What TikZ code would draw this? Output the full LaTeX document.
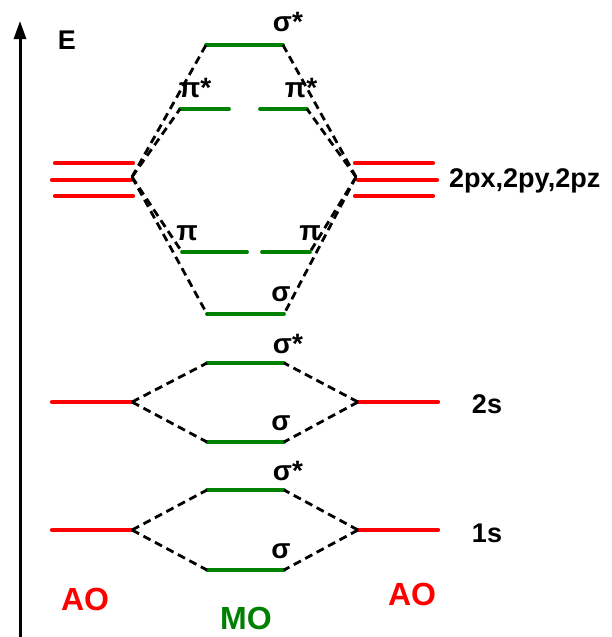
\documentclass[tikz,border=0pt]{standalone}
\usepackage{fontspec}
\setmainfont{Liberation Sans}
\usetikzlibrary{arrows.meta}
\definecolor{aored}{RGB}{255,0,0}
\definecolor{mogreen}{RGB}{0,128,0}
\tikzset{
  aolevel/.style={draw=aored,line width=4.2pt,line cap=round},
  molevel/.style={draw=mogreen,line width=3.8pt,line cap=round},
  corr/.style={draw=black,line width=2.8pt,dash pattern=on 8pt off 5pt},
  lbl/.style={font=\fontsize{27}{30}\selectfont\bfseries,inner sep=0pt,anchor=center},
  orb/.style={font=\fontsize{28}{30}\selectfont\bfseries,inner sep=0pt,anchor=center},
  big/.style={font=\fontsize{32}{34}\selectfont\bfseries,inner sep=0pt,anchor=center}
}
\begin{document}
\begin{tikzpicture}[x=1pt,y=-1pt]
\useasboundingbox (0,0) rectangle (611,637);
% energy axis
\coordinate (axb) at (20,640);
\coordinate (axt) at (20,21);
\draw[line width=3pt,-{Triangle[length=18pt,width=12pt]}] (axb) -- (axt);
\node[lbl] (E) at (67,40) {E};

% 2p AO left
\coordinate (lp1a) at (55,163); \coordinate (lp1b) at (133,163);
\coordinate (lp2a) at (52,180); \coordinate (lp2b) at (131,180);
\coordinate (lp3a) at (55,196); \coordinate (lp3b) at (133,196);
\draw[aolevel] (lp1a) -- (lp1b);
\draw[aolevel] (lp2a) -- (lp2b);
\draw[aolevel] (lp3a) -- (lp3b);
% 2p AO right
\coordinate (rp1a) at (355,163); \coordinate (rp1b) at (433,163);
\coordinate (rp2a) at (358,180); \coordinate (rp2b) at (437,180);
\coordinate (rp3a) at (355,196); \coordinate (rp3b) at (433,196);
\draw[aolevel] (rp1a) -- (rp1b);
\draw[aolevel] (rp2a) -- (rp2b);
\draw[aolevel] (rp3a) -- (rp3b);
\node[lbl,anchor=west] (l2p) at (449,181) {2px,2py,2pz};

% 2p MOs
\coordinate (ss2a) at (206,45); \coordinate (ss2b) at (283,45);
\draw[molevel] (ss2a) -- (ss2b);
\coordinate (psLa) at (180,109); \coordinate (psLb) at (229,109);
\coordinate (psRa) at (260,109); \coordinate (psRb) at (307,109);
\draw[molevel] (psLa) -- (psLb);
\draw[molevel] (psRa) -- (psRb);
\coordinate (pLa) at (182,252); \coordinate (pLb) at (247,252);
\coordinate (pRa) at (262,252); \coordinate (pRb) at (310,252);
\draw[molevel] (pLa) -- (pLb);
\draw[molevel] (pRa) -- (pRb);
\coordinate (s2a) at (207,314); \coordinate (s2b) at (284,314);
\draw[molevel] (s2a) -- (s2b);

% 2p correlation lines
\coordinate (hubL) at (132,177);
\coordinate (hubR) at (356,177);
\draw[corr] (hubL) -- (ss2a);
\draw[corr] (hubL) -- (psLa);
\draw[corr] (hubL) -- (pLa);
\draw[corr] (hubL) -- (s2a);
\draw[corr] (hubR) -- (ss2b);
\draw[corr] (hubR) -- (psRb);
\draw[corr] (hubR) -- (pRb);
\draw[corr] (hubR) -- (s2b);

\node[orb] (lss2) at (288,22) {σ*};
\node[orb] (lpsL) at (195,88) {π*};
\node[orb] (lpsR) at (301,88) {π*};
\node[orb] (lpL) at (187,233) {π};
\node[orb] (lpR) at (310,233) {π};
\node[orb] (ls2) at (281,294) {σ};

% 2s
\coordinate (l2sa) at (52,402); \coordinate (l2sb) at (132,402);
\coordinate (r2sa) at (358,402); \coordinate (r2sb) at (438,402);
\draw[aolevel] (l2sa) -- (l2sb);
\draw[aolevel] (r2sa) -- (r2sb);
\coordinate (ss2sa) at (207,363); \coordinate (ss2sb) at (284,363);
\coordinate (s2sa) at (207,442); \coordinate (s2sb) at (284,442);
\draw[molevel] (ss2sa) -- (ss2sb);
\draw[molevel] (s2sa) -- (s2sb);
\draw[corr] (l2sb) -- (ss2sa);
\draw[corr] (l2sb) -- (s2sa);
\draw[corr] (r2sa) -- (ss2sb);
\draw[corr] (r2sa) -- (s2sb);
\node[orb] (lss2s) at (288,344) {σ*};
\node[orb] (ls2s) at (281,423) {σ};
\node[lbl] (l2s) at (487,404) {2s};

% 1s
\coordinate (l1sa) at (52,530); \coordinate (l1sb) at (132,530);
\coordinate (r1sa) at (358,530); \coordinate (r1sb) at (438,530);
\draw[aolevel] (l1sa) -- (l1sb);
\draw[aolevel] (r1sa) -- (r1sb);
\coordinate (ss1sa) at (207,490); \coordinate (ss1sb) at (284,490);
\coordinate (s1sa) at (207,570); \coordinate (s1sb) at (284,570);
\draw[molevel] (ss1sa) -- (ss1sb);
\draw[molevel] (s1sa) -- (s1sb);
\draw[corr] (l1sb) -- (ss1sa);
\draw[corr] (l1sb) -- (s1sa);
\draw[corr] (r1sa) -- (ss1sb);
\draw[corr] (r1sa) -- (s1sb);
\node[orb] (lss1s) at (288,471) {σ*};
\node[orb] (ls1s) at (281,551) {σ};
\node[lbl] (l1s) at (487,533) {1s};

% bottom labels
\node[big,text=aored] (aoL) at (85,599) {AO};
\node[big,text=aored] (aoR) at (412,594) {AO};
\node[big,text=mogreen] (mo) at (246,618) {MO};
\end{tikzpicture}
\end{document}
